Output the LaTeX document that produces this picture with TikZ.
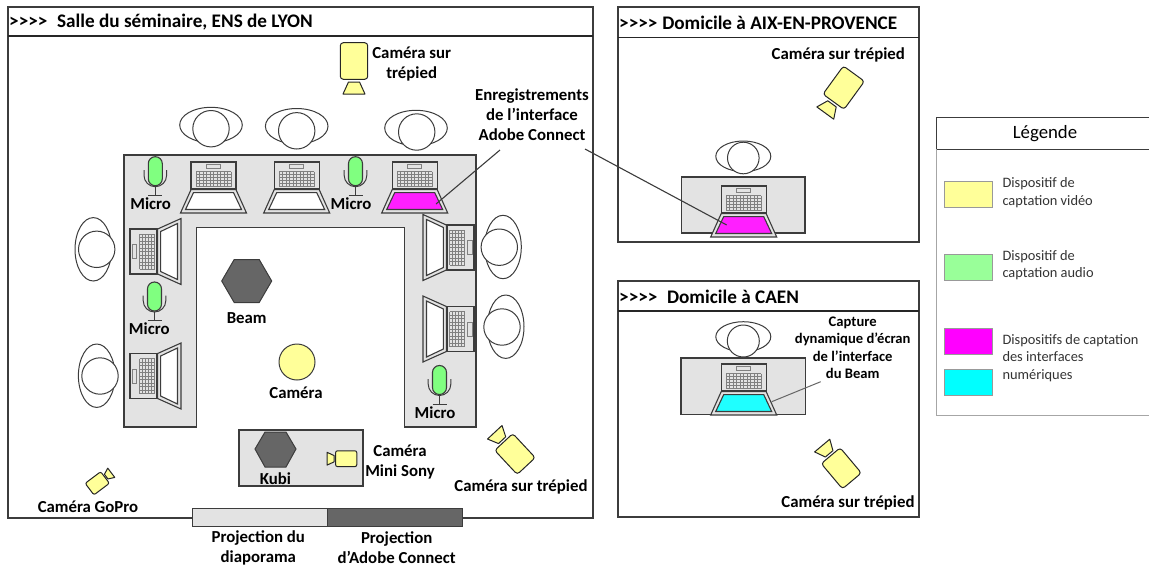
\documentclass[tikz,border=0pt]{standalone}
\usepackage{fontspec}
\setmainfont{Carlito}
\definecolor{ink}{HTML}{3C3C3C}
\definecolor{tablegray}{HTML}{E3E3E3}
\definecolor{hexgray}{HTML}{666666}
\definecolor{camyellow}{HTML}{FFFF99}
\definecolor{micgreen}{HTML}{80FF80}
\definecolor{leggreen}{HTML}{99FF99}
\definecolor{scrmagenta}{HTML}{FF1FFF}
\definecolor{scrcyan}{HTML}{1FFFFF}
\definecolor{legmagenta}{HTML}{FF00FF}
\definecolor{legcyan}{HTML}{00FFFF}
\newcommand{\arrows}{>{}>{}>{}>}
\tikzset{
  frameline/.style={draw=ink,line width=1.3pt},
  headline/.style={draw=black!85,line width=1.7pt},
  tableshape/.style={draw=ink,fill=tablegray,line width=1.2pt},
  personline/.style={draw=ink,fill=white,line width=1pt},
  hexshape/.style={draw=ink,fill=hexgray,line width=1pt},
  lab/.style={inner sep=0pt,align=center,font=\bfseries\fontsize{16.8}{20}\selectfont},
  capt/.style={inner sep=0pt,align=center,font=\bfseries\fontsize{14.6}{17.5}\selectfont},
  head/.style={inner sep=0pt,anchor=west,font=\bfseries\fontsize{19.2}{22}\selectfont},
  legt/.style={inner sep=0pt,anchor=north west,align=left,text=black!80,font=\fontsize{14.4}{17.6}\selectfont},
  legbox/.style={draw=black!40,line width=1pt},
  cambody/.style={draw=black!85,fill=camyellow,line width=1pt,rounded corners=3pt},
  camlens/.style={draw=black!85,fill=camyellow,line width=1pt,line join=round},
  pics/cam/.style={code={
    \draw[cambody] (-13.7,-18.3) rectangle (13.7,18.3);
    \draw[camlens] (-5.5,21) -- (5.5,21) -- (11,33) -- (-11,33) -- cycle;
  }},
  pics/mic/.style={code={
    \draw[ink,line width=1pt] (-11.3,-1) -- (-11.3,4.2) arc[start angle=180,end angle=0,radius=11.3] -- (11.3,-1);
    \draw[draw=ink,fill=micgreen,line width=1.1pt,rounded corners=6.9pt] (-7,-14.5) rectangle (7,14.5);
    \draw[ink,line width=1pt] (0,15.5) -- (0,24) (-7,24) -- (7,24);
  }},
  pics/laptop/.style={code={
    \draw[draw=ink,fill=tablegray,line width=1.1pt] (-22.5,-27) rectangle (22.5,0);
    \draw[draw=black!50,line width=.6pt,fill=tablegray] (-7,-25) rectangle (7,-20.5);
    \foreach \kx in {0,...,10} \draw[black!50,line width=.5pt] (-17.5+3.5*\kx,-17.5) -- (-17.5+3.5*\kx,-2.5);
    \foreach \ky in {0,...,5} \draw[black!50,line width=.5pt] (-17.5,-17.5+3*\ky) -- (17.5,-17.5+3*\ky);
    \draw[draw=ink,fill=tablegray,line width=1.1pt,line join=miter] (-22.5,0.6) -- (22.5,0.6) -- (33,24) -- (-33,24) -- cycle;
    \draw[draw=ink,fill=#1,line width=1.1pt] (-20,3.6) -- (20,3.6) -- (28,20.5) -- (-28,20.5) -- cycle;
  }},
}
\newcommand{\person}[6]{%
  \draw[personline] (#1,#2) ellipse [x radius=#5,y radius=#6];
  \draw[personline] (#3,#4) circle [radius=18.2];
}
\begin{document}
\begin{tikzpicture}[x=1pt,y=-1pt]
\useasboundingbox (0,0) rectangle (1149,566);
% main frame
\draw[frameline] (8,7) rectangle (593,518);
\draw[headline] (8,36) -- (593,36);
\node[head] (lyonhead) at (9,22.5) {\arrows\hspace{.5em}Salle du séminaire, ENS de LYON};
% aix frame
\draw[frameline] (618,7) rectangle (919,242);
\draw[headline] (618,37.5) -- (919,37.5);
\node[head] (aixhead) at (619,22.5) {\arrows\hspace{.25em}Domicile à AIX-EN-PROVENCE};
% caen frame
\draw[frameline] (618,281) rectangle (919,517);
\draw[headline] (618,311) -- (919,311);
\node[head] (caenhead) at (619,297) {\arrows\hspace{.5em}Domicile à CAEN};
% legend
\draw[draw=ink,line width=1pt] (1149,117) -- (936,117) -- (936,149.3) -- (1149,149.3);
\draw[draw=black!35,line width=1pt] (936,149.3) -- (936,415) -- (1149,415);
\node[inner sep=0pt,font=\fontsize{18.8}{22}\selectfont] (legtitle) at (1045,134) {Légende};
\draw[legbox,fill=camyellow] (944.7,181.7) rectangle (992.7,207.7);
\draw[legbox,fill=leggreen] (944.7,254) rectangle (992.7,280);
\draw[legbox,fill=legmagenta] (944.7,328.3) rectangle (992.7,354.3);
\draw[legbox,fill=legcyan] (944.7,369.3) rectangle (992.7,395);
\node[legt] (legvideo) at (1002.3,177.5) {Dispositif de\\captation vidéo};
\node[legt] (legaudio) at (1002.3,250) {Dispositif de\\captation audio};
\node[legt] (legnum) at (1002.3,334) {Dispositifs de captation\\des interfaces\\numériques};
% tables
\draw[tableshape] (124,155) -- (476,155) -- (476,427) -- (404.3,427) -- (404.3,227.3) -- (196.5,227.3) -- (196.5,427) -- (124,427) -- cycle;
\draw[tableshape] (681.7,177) rectangle (805,233);
\draw[tableshape] (681,358) rectangle (805.7,414.7);
\draw[tableshape] (239,430) rectangle (363,486);
% people
\person{211}{125}{211}{128.7}{31.3}{17.7}
\person{296.7}{126.2}{296.7}{130.8}{31.3}{17.7}
\person{416}{128}{416.7}{132}{31.3}{17.7}
\person{93.3}{249.3}{96.7}{249.3}{18.3}{31.7}
\person{96.7}{375.7}{100}{376}{18.3}{31.7}
\person{503}{247}{499.3}{247.2}{18.3}{31.7}
\person{505.7}{326.7}{502}{327}{18.3}{31.7}
\draw[personline] (743.3,156.3) ellipse [x radius=27.5,y radius=15.3];
\draw[personline] (743.3,158) circle [radius=15.8];
\draw[personline] (743.3,336.7) ellipse [x radius=27.5,y radius=15];
\draw[personline] (743.3,341) circle [radius=16];
% laptops
\pic (lapa) at (213.5,189) {laptop=white};
\pic (lapb) at (296.7,189) {laptop=white};
\pic (lapc) at (414.7,189) {laptop=scrmagenta};
\pic[rotate=90] (lapd) at (157,251.5) {laptop=white};
\pic[rotate=90] (lape) at (157,376) {laptop=white};
\pic[rotate=-90] (lapf) at (447,247.5) {laptop=white};
\pic[rotate=-90] (lapg) at (447,329) {laptop=white};
\pic (laph) at (743.7,213) {laptop=scrmagenta};
\pic (lapi) at (743.7,391) {laptop=scrcyan};
% mics
\pic (mica) at (155.3,171.2) {mic};
\pic (micb) at (355.5,171.2) {mic};
\pic (micc) at (154.5,296.5) {mic};
\pic (micd) at (439.5,380) {mic};
\node[lab] (ma) at (150.7,203.3) {Micro};
\node[lab] (mb) at (351,203.3) {Micro};
\node[lab] (mc) at (149.3,329) {Micro};
\node[lab] (md) at (435,412.3) {Micro};
% devices
\draw[hexshape] (221.7,281) -- (234.2,259.5) -- (259.2,259.5) -- (271.7,281) -- (259.2,302.5) -- (234.2,302.5) -- cycle;
\node[lab] (beam) at (246.7,318) {Beam};
\draw[draw=ink,fill=camyellow,line width=1pt] (297,362) circle [radius=18];
\node[lab] (camcenter) at (296,393) {Caméra};
\draw[hexshape] (255,449) -- (265,432) -- (286,432) -- (296,449) -- (286,467) -- (265,467) -- cycle;
\node[lab] (kubi) at (275.5,479) {Kubi};
% cameras
\pic (camtop) at (354,61) {cam};
\node[lab] (camtoplab) at (411.7,64) {Caméra sur\\trépied};
\pic[rotate=223,scale=.9] (camright) at (515,454) {cam};
\node[lab] (camrightlab) at (521,487) {Caméra sur trépied};
\pic[rotate=-36,scale=.95] (camaix) at (843.7,87.7) {cam};
\node[lab] (camaixlab) at (838.3,55) {Caméra sur trépied};
\pic[rotate=220,scale=.9] (camcaen) at (841.3,468.3) {cam};
\node[lab] (camcaenlab) at (848,503) {Caméra sur trépied};
\pic[rotate=127,scale=.53,cambody/.append style={rounded corners=2pt}] (camgopro) at (97.3,483.3) {cam};
\node[lab] (camgoprolab) at (88,507) {Caméra GoPro};
\pic[rotate=-90,scale=.58,cambody/.append style={rounded corners=2pt}] (camsony) at (346.2,458.7) {cam};
\node[lab] (camsonylab) at (400,462) {Caméra\\Mini Sony};
% projection
\draw[tableshape] (192.3,508.3) rectangle (327.7,526.7);
\draw[draw=ink,fill=hexgray,line width=1.2pt] (327.7,508.3) rectangle (462.3,526.7);
\node[lab] (projl) at (258.3,548) {Projection du\\diaporama};
\node[lab] (projr) at (396.7,548) {Projection\\d’Adobe Connect};
% annotations
\node[lab] (enreg) at (532,115) {Enregistrements\\de l’interface\\Adobe Connect};
\node[capt] (capture) at (852.7,348) {Capture\\dynamique d’écran\\de l’interface\\du Beam};
\coordinate (enda) at (436,204);
\coordinate (endb) at (726.7,225);
\coordinate (endc) at (771.7,401.7);
\coordinate (starta) at (500,150);
\coordinate (startb) at (585,149);
\coordinate (startc) at (820.7,381.7);
\draw[ink,line width=1.1pt] (starta) -- (enda);
\draw[ink,line width=1.1pt] (startb) -- (endb);
\draw[black!60,line width=1pt] (startc) -- (endc);
\end{tikzpicture}
\end{document}
